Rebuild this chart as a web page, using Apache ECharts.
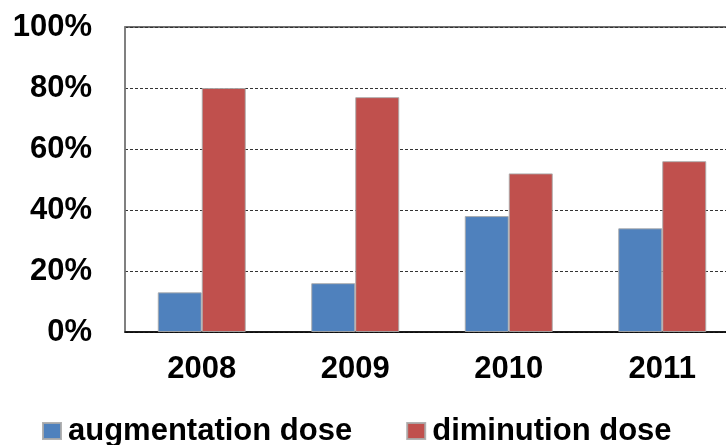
<!DOCTYPE html>
<html>
<head>
<meta charset="utf-8">
<script src="https://cdn.jsdelivr.net/npm/echarts@6/dist/echarts.min.js"></script>
<style>
  html, body { margin: 0; padding: 0; background: #fff; }
  #main { width: 726px; height: 445px; }
</style>
</head>
<body>
<div id="main"></div>
<script>
// data
var years = ['2008', '2009', '2010', '2011']
var augmentation = [13, 16, 38, 34]
var diminution = [80, 77, 52, 56]
var seriesNames = ['augmentation dose', 'diminution dose']

var chart = echarts.init(document.getElementById('main'))
var font = 'Liberation Sans, Arial, sans-serif'

chart.setOption({
  animation: false,
  color: ['#4F81BD', '#C0504D'],
  grid: {
    left: 125,
    top: 27,
    width: 614,
    height: 305,
    outerBoundsMode: 'none',
    containLabel: false,
    show: true,
    borderColor: '#404040',
    borderWidth: 1.5
  },
  legend: {
    data: seriesNames,
    left: 42,
    top: 415,
    padding: 0,
    icon: 'rect',
    itemWidth: 18,
    itemHeight: 16,
    itemGap: 54,
    textStyle: {
      fontFamily: font,
      fontSize: 31,
      fontWeight: 'bold',
      color: '#000',
      padding: [0, 0, 0, 2],
      lineHeight: 32
    }
  },
  xAxis: {
    type: 'category',
    data: years,
    axisTick: { show: false },
    axisLine: { lineStyle: { color: '#000', width: 1.5 } },
    axisLabel: {
      margin: 22,
      fontFamily: font,
      fontSize: 31,
      fontWeight: 'bold',
      color: '#000'
    }
  },
  yAxis: {
    type: 'value',
    min: 0,
    max: 100,
    interval: 20,
    axisLine: { show: true, lineStyle: { color: '#868686', width: 1.5 } },
    axisTick: { show: false },
    axisLabel: {
      margin: 33,
      formatter: '{value}%',
      fontFamily: font,
      fontSize: 31,
      fontWeight: 'bold',
      color: '#000'
    },
    splitLine: {
      lineStyle: { color: '#333', type: [3, 2], width: 1 }
    }
  },
  series: [
    {
      name: seriesNames[0],
      type: 'bar',
      data: augmentation,
      barWidth: 44,
      barGap: '0%',
      itemStyle: { borderColor: 'rgba(170,170,170,0.9)', borderWidth: 1 }
    },
    {
      name: seriesNames[1],
      type: 'bar',
      data: diminution,
      barWidth: 44,
      barGap: '0%',
      itemStyle: { borderColor: 'rgba(170,170,170,0.9)', borderWidth: 1 }
    }
  ]
})
</script>
</body>
</html>
